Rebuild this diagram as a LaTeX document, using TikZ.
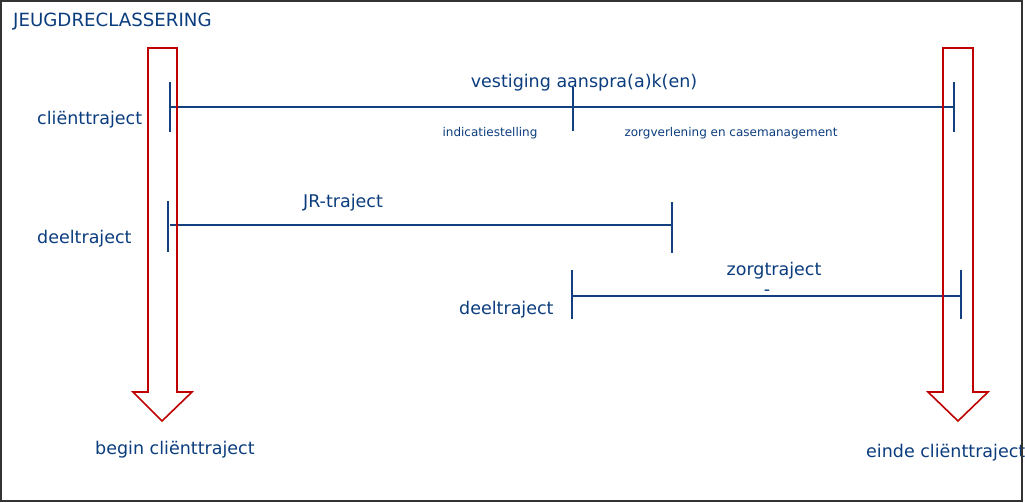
\documentclass[tikz,border=0pt]{standalone}
\usepackage{fontspec}
\setmainfont{DejaVu Sans}
\definecolor{txtblue}{HTML}{0B3D7E}
\definecolor{lnblue}{HTML}{15407F}
\definecolor{arrred}{HTML}{C00000}
\definecolor{frame}{HTML}{333333}
\begin{document}
\begin{tikzpicture}[x=1pt,y=-1pt,
  lbl/.style={text=txtblue, font=\fontsize{17.5}{20}\selectfont, inner sep=0pt},
  small/.style={text=txtblue, font=\fontsize{12}{14}\selectfont, inner sep=0pt},
  trline/.style={draw=lnblue, line width=1.5pt},
  tickmark/.style={draw=lnblue, line width=2pt},
  bigarrow/.style={draw=arrred, line width=1.6pt, line join=miter}]
\useasboundingbox (0,0) rectangle (1025,503);
\fill[white] (0,0) rectangle (1025,503);

% labels
\node[lbl, anchor=base west, font=\fontsize{18.2}{21}\selectfont] (title) at (13,27) {JEUGDRECLASSERING};
\node[lbl, anchor=base west] (ct) at (37,124) {cliënttraject};
\node[lbl, anchor=base west] (dt1) at (37,243) {deeltraject};
\node[lbl, anchor=base west] (dt2) at (459,314) {deeltraject};
\node[lbl, anchor=base] (vest) at (584,88) {vestiging aanspra(a)k(en)};
\node[small, anchor=base] (ind) at (490,136) {indicatiestelling};
\node[small, anchor=base] (zorgv) at (731,136) {zorgverlening en casemanagement};
\node[lbl, anchor=base] (jr) at (343,207) {JR-traject};
\node[lbl, anchor=base] (zt) at (774,275) {zorgtraject};
\node[lbl, anchor=base] (dash) at (767,295) {-};
\node[lbl, anchor=base west] (begin) at (95,454) {begin cliënttraject};
\node[lbl, anchor=base west] (einde) at (866,457) {einde cliënttraject};

% cliënttraject row
\coordinate (c1) at (170,107);
\coordinate (c2) at (954,107);
\coordinate (c1t) at (170,82);  \coordinate (c1b) at (170,132);
\coordinate (c2t) at (954,82);  \coordinate (c2b) at (954,132);
\coordinate (cmt) at (573,87);  \coordinate (cmb) at (573,131);
\draw[trline] (c1) -- (c2);
\draw[tickmark] (c1t) -- (c1b);
\draw[tickmark] (c2t) -- (c2b);
\draw[tickmark] (cmt) -- (cmb);

% JR-traject row
\coordinate (j1) at (170,225);
\coordinate (j2) at (672,225);
\coordinate (j1t) at (168,201); \coordinate (j1b) at (168,252);
\coordinate (j2t) at (672,202); \coordinate (j2b) at (672,253);
\draw[trline] (j1) -- (j2);
\draw[tickmark] (j1t) -- (j1b);
\draw[tickmark] (j2t) -- (j2b);

% zorgtraject row
\coordinate (z1) at (572,296);
\coordinate (z2) at (961,296);
\coordinate (z1t) at (572,270); \coordinate (z1b) at (572,319);
\coordinate (z2t) at (961,270); \coordinate (z2b) at (961,319);
\draw[trline] (z1) -- (z2);
\draw[tickmark] (z1t) -- (z1b);
\draw[tickmark] (z2t) -- (z2b);

% big arrows
\draw[bigarrow] (148,48) -- (177,48) -- (177,392) -- (192,392) -- (162,421) -- (133,392) -- (148,392) -- cycle;
\draw[bigarrow] (943,48) -- (973,48) -- (973,392) -- (988,392) -- (958,421) -- (928,392) -- (943,392) -- cycle;

% frame
\draw[draw=frame, line width=2pt] (1,1) rectangle (1022,501);
\end{tikzpicture}
\end{document}
